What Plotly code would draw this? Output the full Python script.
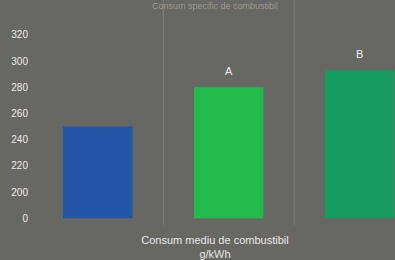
import plotly.graph_objects as go

categories = ["Referință", "A", "B"]
values = [250, 280, 293]
bar_labels = ["", "A", "B"]
bar_colors = ["#2356a6", "#22bb4c", "#159a60"]
tick_vals = [180, 200, 220, 240, 260, 280, 300, 320]
tick_text = ["0", "200", "220", "240", "260", "280", "300", "320"]
axis_base = 180  # axis break: "0" drawn at this position

fig = go.Figure()
fig.add_trace(go.Bar(
    x=categories,
    y=[v - axis_base for v in values],
    base=axis_base,
    width=0.53,
    marker=dict(color=bar_colors, line=dict(width=0)),
    hoverinfo="skip",
))

for c, v, t in zip(categories, values, bar_labels):
    if t:
        fig.add_annotation(x=c, y=v, text=t, showarrow=False, yshift=16,
                           font=dict(size=11, color="#f0f0f0", family="Arial"))

fig.add_annotation(xref="paper", yref="paper", x=0.5, y=1.0, yanchor="top",
                   yshift=1,
                   text="Consum specific de combustibil", showarrow=False,
                   font=dict(size=9, color="rgba(235,230,210,0.4)", family="Arial"))

for xv in [0.5, 1.5]:
    fig.add_shape(type="line", xref="x", yref="paper", x0=xv, x1=xv, y0=0, y1=1,
                  line=dict(color="rgba(200,200,190,0.22)", width=1), layer="below")

fig.update_layout(
    width=395, height=260,
    margin=dict(l=35, r=0, t=0, b=35),
    paper_bgcolor="#676764",
    plot_bgcolor="#676764",
    showlegend=False,
    font=dict(family="Arial", color="#e6e6e6"),
    xaxis=dict(range=[-0.48, 2.27], showticklabels=False, showgrid=False,
               zeroline=False, showline=False, ticks="",
               title=dict(text="Consum mediu de combustibil<br>g/kWh",
                          font=dict(size=11, color="#e8e8e8"), standoff=12)),
    yaxis=dict(range=[174.8, 346.6], tickvals=tick_vals, ticktext=tick_text,
               showgrid=False, zeroline=False, showline=False, ticks="",
               tickfont=dict(size=10, color="#ececec"), ticklabelstandoff=6),
)

fig.write_html("out.html", config={"displayModeBar": False},
               post_script="document.body.style.margin='0';document.body.style.background='#676764';")
